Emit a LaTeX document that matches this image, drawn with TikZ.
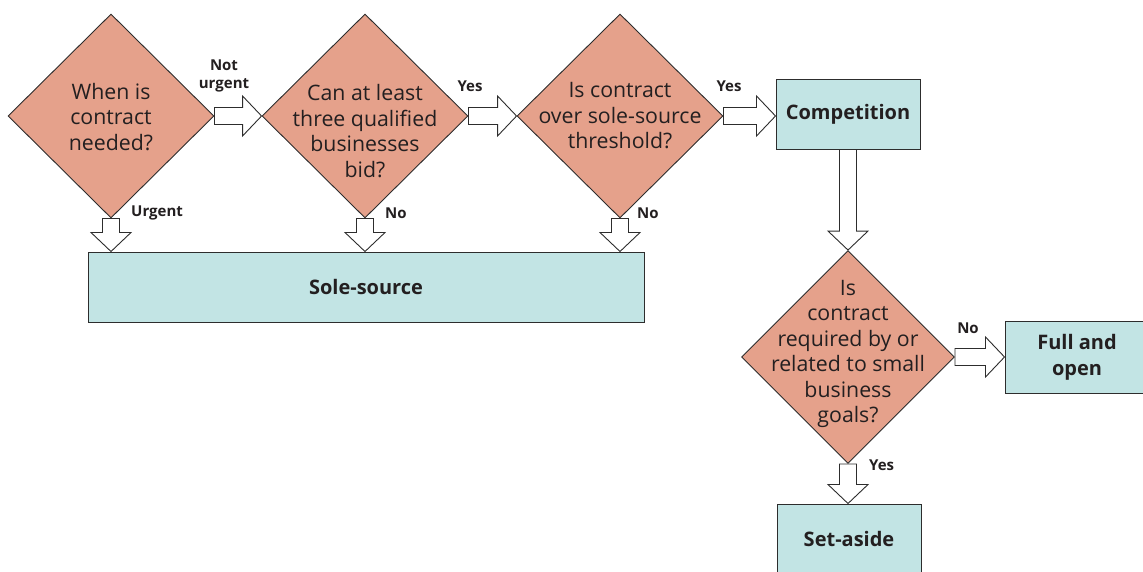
\documentclass[tikz,border=0pt]{standalone}
\usepackage{fontspec}
\setmainfont{Open Sans}
\usetikzlibrary{shapes.geometric,calc,backgrounds}
\definecolor{salmon}{RGB}{229,161,139}
\definecolor{paleteal}{RGB}{194,228,228}
\definecolor{edge}{RGB}{45,45,45}
\definecolor{ink}{RGB}{35,31,32}

\tikzset{
  decision/.style={diamond, draw=edge, line width=0.9pt, fill=salmon,
    minimum width=206pt, minimum height=204pt, inner sep=0pt},
  outcome/.style={rectangle, draw=edge, line width=1pt, fill=paleteal,
    minimum width=144pt, minimum height=70pt, inner sep=0pt, text=ink,
    font=\fontsize{20}{26}\selectfont\bfseries, align=center},
  qtext/.style={font=\fontsize{21.3}{25.5}\selectfont, align=center, text=ink, inner sep=0pt},
  arrlabel/.style={font=\fontsize{15}{18}\selectfont\bfseries, align=center, text=ink, inner sep=0pt},
  hollow/.style={draw=edge, line width=0.9pt, fill=white, line join=miter},
}

% hollow block arrow pointing right, kept at the height of its start
\newcommand\rightblock[2]{%
  \draw[hollow] let \p1=(#1), \p2=(#2) in
    (\x1,\y1+8.5pt) -- (\x2-19pt,\y1+8.5pt) -- (\x2-19pt,\y1+20pt) -- (\x2,\y1)
    -- (\x2-19pt,\y1-20pt) -- (\x2-19pt,\y1-8.5pt) -- (\x1,\y1-8.5pt) -- cycle;}
% hollow block arrow pointing down, kept at the x of its start
\newcommand\downblock[2]{%
  \draw[hollow] let \p1=(#1), \p2=(#2) in
    (\x1-8.5pt,\y1) -- (\x1-8.5pt,\y2+19pt) -- (\x1-20pt,\y2+19pt) -- (\x1,\y2)
    -- (\x1+20pt,\y2+19pt) -- (\x1+8.5pt,\y2+19pt) -- (\x1+8.5pt,\y1) -- cycle;}

\begin{document}
\begin{tikzpicture}[x=1pt,y=-1pt]
  \useasboundingbox (0,0) rectangle (1143,571);
  \clip (0,0) rectangle (1143,571);

  % decisions
  \node[decision] (d1) at (111,116) {};
  \node[qtext] (t1) at (111,117) {When is\\contract\\needed?};
  \node[decision] (d2) at (365,116) {};
  \node[qtext] (t2) at (365,131) {Can at least\\three qualified\\businesses\\bid?};
  \node[decision] (d3) at (620,116) {};
  \node[qtext] (t3) at (620,116) {Is contract\\over sole-source\\threshold?};
  \node[decision, minimum width=213pt, minimum height=213pt] (d4) at (848,357) {};
  \node[qtext] (t4) at (848,354) {Is\\contract\\required by or\\related to small\\business\\goals?};

  % outcomes
  \node[outcome] (comp) at (848,114) {Competition};
  \node[outcome, minimum width=556pt] (sole) at (366,287) {Sole-source};
  \node[outcome, minimum height=72pt] (full) at (1077,357) {Full and\\open};
  \node[outcome] (aside) at (849,539) {Set-aside};

  % connectors behind the shapes
  \begin{pgfonlayer}{background}
    \rightblock{d1.east}{d2.west}
    \rightblock{d2.east}{d3.west}
    \rightblock{d3.east}{comp.west}
    \rightblock{d4.east}{full.west}
    \downblock{d1.south}{sole.north}
    \downblock{d2.south}{sole.north}
    \downblock{d3.south}{sole.north}
    \downblock{comp.south}{d4.north}
    \downblock{d4.south}{aside.north}
  \end{pgfonlayer}

  % connector labels
  \node[arrlabel] (lnu) at (224,76) {Not\\urgent};
  \node[arrlabel, anchor=west] (lu) at (131,213) {Urgent};
  \node[arrlabel] (ly1) at (470,86) {Yes};
  \node[arrlabel, anchor=west] (ln1) at (385,213) {No};
  \node[arrlabel] (ly2) at (729,86) {Yes};
  \node[arrlabel, anchor=west] (ln2) at (637,213) {No};
  \node[arrlabel] (ln3) at (968,328) {No};
  \node[arrlabel, anchor=west] (ly3) at (869,465) {Yes};
\end{tikzpicture}
\end{document}
